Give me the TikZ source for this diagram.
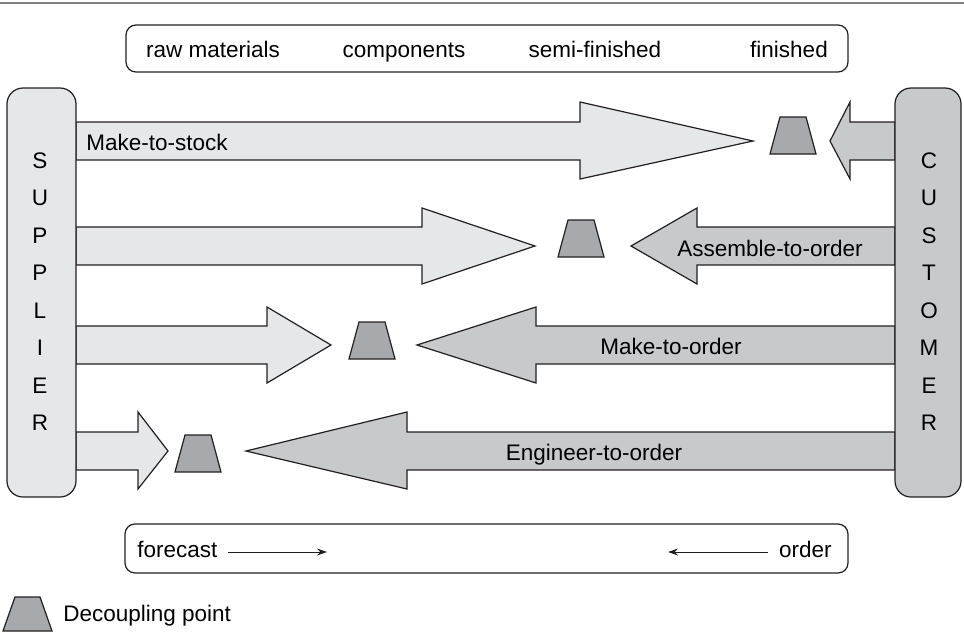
\documentclass[tikz,border=0pt]{standalone}
\usepackage{fontspec}
\setmainfont{Liberation Sans}
\usetikzlibrary{arrows.meta}
\definecolor{lightg}{HTML}{E6E7E8}
\definecolor{midg}{HTML}{C8C9CB}
\definecolor{darkg}{HTML}{A7A9AC}
\definecolor{edgec}{HTML}{231F20}
\definecolor{rulec}{HTML}{7F7F7F}
\begin{document}
\begin{tikzpicture}[x=0.5pt,y=-0.5pt,
  font=\fontsize{11.25}{13.5}\selectfont,
  fwd/.style={fill=lightg, draw=edgec, line width=0.6pt, line join=miter},
  bwd/.style={fill=midg, draw=edgec, line width=0.6pt, line join=miter},
  dp/.style={fill=darkg, draw=edgec, line width=0.6pt, line join=miter},
  lbl/.style={anchor=base, inner sep=0pt, text=black},
  roundbox/.style={draw=edgec, line width=0.6pt, rounded corners=5pt, inner sep=0pt},
  sidebox/.style={draw=edgec, line width=0.6pt, rounded corners=8pt, inner sep=0pt},
  thinarrow/.style={draw=edgec, line width=0.5pt, -{Stealth[length=5pt,width=3.5pt]}}
]
\useasboundingbox (0,0) rectangle (964,632);

% top rule
\draw[rulec, line width=1pt] (0,3) -- (964,3);

% top box
\node[roundbox, minimum width=361pt, minimum height=23.5pt] (topbox) at (487,48.5) {};
\node[lbl] (traw)  at (213,57) {raw materials};
\node[lbl] (tcomp) at (404,57) {components};
\node[lbl] (tsemi) at (595,57) {semi-finished};
\node[lbl] (tfin)  at (789,57) {finished};

% arrows (forward, from supplier)
\draw[fwd] (76,122) -- (580,122) -- (580,102) -- (753,141) -- (580,179) -- (580,160) -- (76,160) -- cycle;
\draw[fwd] (76,227) -- (422,227) -- (422,208) -- (535,246) -- (422,284) -- (422,265) -- (76,265) -- cycle;
\draw[fwd] (76,326) -- (267,326) -- (267,307) -- (331,345) -- (267,383) -- (267,364) -- (76,364) -- cycle;
\draw[fwd] (76,432) -- (138,432) -- (138,412) -- (168,451) -- (138,489) -- (138,470) -- (76,470) -- cycle;

% arrows (backward, from customer)
\draw[bwd] (895,122) -- (850,122) -- (850,102) -- (830,141) -- (850,179) -- (850,160) -- (895,160) -- cycle;
\draw[bwd] (895,227) -- (697,227) -- (697,208) -- (631,246) -- (697,284) -- (697,265) -- (895,265) -- cycle;
\draw[bwd] (895,326) -- (536,326) -- (536,307) -- (417,345) -- (536,383) -- (536,364) -- (895,364) -- cycle;
\draw[bwd] (895,432) -- (407,432) -- (407,412) -- (246,451) -- (407,489) -- (407,470) -- (895,470) -- cycle;

% decoupling points
\foreach \cx/\ty in {793/117, 581/220, 372/322, 198/435}
  \draw[dp] ({\cx-13},\ty) -- ({\cx+13},\ty) -- ({\cx+23},{\ty+37}) -- ({\cx-23},{\ty+37}) -- cycle;

% arrow labels
\node[lbl, anchor=base west] (lmts) at (86,150) {Make-to-stock};
\node[lbl] (lato) at (770,256) {Assemble-to-order};
\node[lbl] (lmto) at (671,354) {Make-to-order};
\node[lbl] (leto) at (594,460) {Engineer-to-order};

% supplier and customer boxes
\node[sidebox, fill=lightg, minimum width=34.5pt, minimum height=204.5pt] (sup) at (41.5,292.5) {};
\node[sidebox, fill=midg, minimum width=33pt, minimum height=204.5pt] (cus) at (928,292.5) {};
\foreach \l [count=\i from 0] in {S,U,P,P,L,I,E,R}
  \node[lbl] (s\i) at (40,{168+37.57*\i}) {\l};
\foreach \l [count=\i from 0] in {C,U,S,T,O,M,E,R}
  \node[lbl] (c\i) at (929,{168+37.57*\i}) {\l};

% bottom box
\node[roundbox, minimum width=361.5pt, minimum height=24.5pt] (botbox) at (486.5,548.5) {};
\node[lbl, anchor=base west] (fc) at (137,557) {forecast};
\node[lbl, anchor=base east] (ord) at (832,557) {order};
\coordinate (fa1) at (228,552);
\coordinate (fa2) at (327,552);
\coordinate (oa1) at (768,552);
\coordinate (oa2) at (668,552);
\draw[thinarrow] (fa1) -- (fa2);
\draw[thinarrow] (oa1) -- (oa2);

% legend
\draw[dp] (15,597) -- (40,597) -- (52,631) -- (3,631) -- cycle;
\node[lbl, anchor=base west] (leg) at (63,621) {Decoupling point};
\end{tikzpicture}
\end{document}
